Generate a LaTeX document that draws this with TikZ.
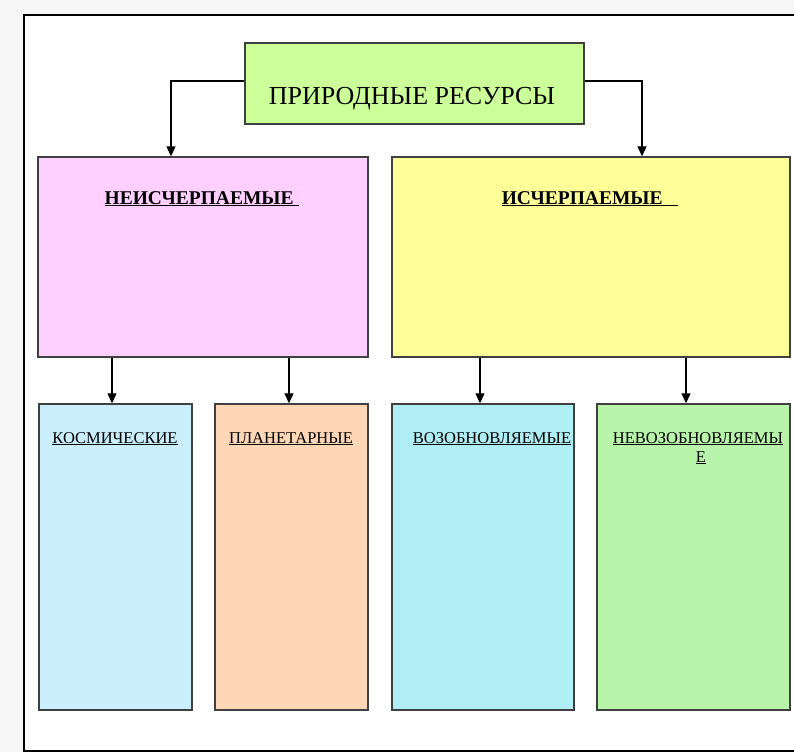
\documentclass[tikz,border=0pt]{standalone}
\usepackage{fontspec}
\setmainfont{Liberation Serif}
\usetikzlibrary{arrows.meta}
\definecolor{pagegray}{RGB}{246,246,246}
\definecolor{titlegreen}{RGB}{204,255,153}
\definecolor{boxpink}{RGB}{255,208,255}
\definecolor{boxyellow}{RGB}{255,255,153}
\definecolor{boxblue}{RGB}{202,238,252}
\definecolor{boxpeach}{RGB}{255,214,182}
\definecolor{boxcyan}{RGB}{175,238,245}
\definecolor{boxgreen}{RGB}{184,245,170}

\begin{document}
\begin{tikzpicture}[x=1pt,y=-1pt,
  b/.style={draw=black!75,line width=1.4pt,inner sep=0pt},
  arr/.style={-{Triangle[length=10pt,width=9pt]},line width=1.2pt},
  lbl/.style={font=\fontsize{19.5}{23}\selectfont\bfseries,inner sep=0pt,anchor=base},
  sub/.style={font=\fontsize{16.5}{19}\selectfont,inner sep=0pt,anchor=base}]
  \useasboundingbox (0,0) rectangle (794,752);
  \fill[pagegray] (0,0) rectangle (794,752);
  \draw[line width=1.6pt,fill=white] (24,15) rectangle (810,751);
  \node[b,fill=titlegreen,minimum width=339pt,minimum height=81pt] (res) at (414.5,83.5) {};
  \node[font=\fontsize{26}{30}\selectfont,inner sep=0pt,anchor=base] (resT) at (412,104) {ПРИРОДНЫЕ РЕСУРСЫ};
  \node[b,fill=boxpink,minimum width=330pt,minimum height=200pt] (inexh) at (203,257) {};
  \node[b,fill=boxyellow,minimum width=398pt,minimum height=200pt] (exh) at (591,257) {};
  \node[lbl] (inexhT) at (202,204) {\underline{НЕИСЧЕРПАЕМЫЕ\hspace{0.3em}}};
  \node[lbl] (exhT) at (590,204) {\underline{ИСЧЕРПАЕМЫЕ\hspace{0.8em}}};
  \node[b,fill=boxblue,minimum width=153pt,minimum height=306pt] (cosm) at (115.5,557) {};
  \node[b,fill=boxpeach,minimum width=153pt,minimum height=306pt] (plan) at (291.5,557) {};
  \node[b,fill=boxcyan,minimum width=182pt,minimum height=306pt] (renew) at (483,557) {};
  \node[b,fill=boxgreen,minimum width=193pt,minimum height=306pt] (nonren) at (693.5,557) {};
  \node[sub] (cosmT) at (115,443) {\underline{КОСМИЧЕСКИЕ}};
  \node[sub] (planT) at (291,443) {\underline{ПЛАНЕТАРНЫЕ}};
  \node[sub] (renewT) at (492,443) {\underline{ВОЗОБНОВЛЯЕМЫЕ}};
  \node[sub] (nonrenT) at (698,443) {\underline{НЕВОЗОБНОВЛЯЕМЫ}};
  \node[sub] (nonrenT2) at (701,462) {\underline{Е}};
  \draw[arr] ([yshift=2.5pt]res.west) -| ([xshift=-32pt]inexh.north);
  \draw[arr] ([yshift=2.5pt]res.east) -| ([xshift=51pt]exh.north);
  \draw[arr] ([xshift=-3.5pt]cosm.north |- inexh.south) -- ([xshift=-3.5pt]cosm.north);
  \draw[arr] ([xshift=-2.5pt]plan.north |- inexh.south) -- ([xshift=-2.5pt]plan.north);
  \draw[arr] ([xshift=-3pt]renew.north |- exh.south) -- ([xshift=-3pt]renew.north);
  \draw[arr] ([xshift=-7.5pt]nonren.north |- exh.south) -- ([xshift=-7.5pt]nonren.north);
\end{tikzpicture}
\end{document}
